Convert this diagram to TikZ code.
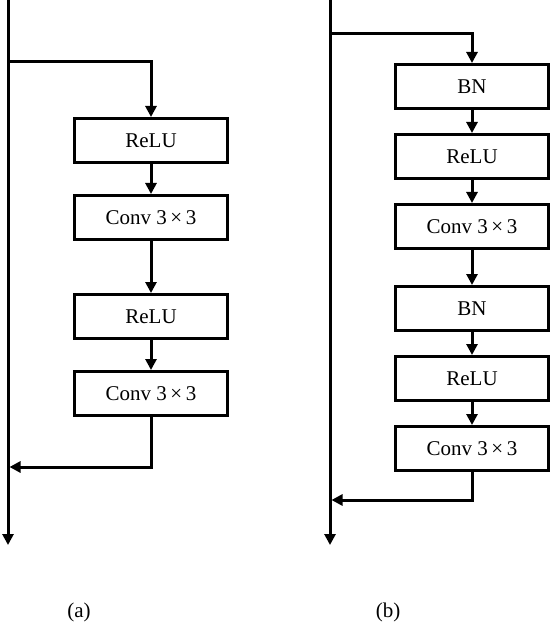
\documentclass[tikz,border=0pt]{standalone}
\usepackage{fontspec}
\setmainfont{Liberation Serif}
\usetikzlibrary{positioning,arrows.meta}
\begin{document}
\begin{tikzpicture}[x=1pt,y=-1pt]
    \tikzset{
        layer/.style={draw, line width=3pt, minimum width=153pt, minimum height=44pt, inner sep=0pt, font=\fontsize{21}{25}\selectfont},
        flow/.style={line width=3pt, -{Triangle[width=11pt,length=11pt]}},
        caption/.style={font=\fontsize{21}{25}\selectfont}
    }
    \useasboundingbox (0,0) rectangle (552,628);
    % (a) plain block
    \coordinate (inA) at (8,0);
    \coordinate (outA) at (8,545);
    \coordinate (splitA) at (8,62);
    \coordinate (joinA) at (9.5,467);
    \node[layer] (reluA1) at (151,140.5) {ReLU};
    \node[layer, below=30pt of reluA1] (convA1) {Conv 3\,×\,3};
    \node[layer, below=52pt of convA1] (reluA2) {ReLU};
    \node[layer, below=30pt of reluA2] (convA2) {Conv 3\,×\,3};
    \draw[flow] (inA) -- (outA);
    \draw[flow] (splitA) -| (reluA1.north);
    \draw[flow] (reluA1) -- (convA1);
    \draw[flow] (convA1) -- (reluA2);
    \draw[flow] (reluA2) -- (convA2);
    \draw[flow] (convA2.south) |- (joinA);
    \node[caption] (capA) at (79,612) {(a)};
    % (b) pre-activation block
    \coordinate (inB) at (330,0);
    \coordinate (outB) at (330,545);
    \coordinate (splitB) at (330,34);
    \coordinate (joinB) at (331.5,500);
    \node[layer] (bnB1) at (472,86.5) {BN};
    \node[layer, below=23pt of bnB1] (reluB1) {ReLU};
    \node[layer, below=23pt of reluB1] (convB1) {Conv 3\,×\,3};
    \node[layer, below=35pt of convB1] (bnB2) {BN};
    \node[layer, below=23pt of bnB2] (reluB2) {ReLU};
    \node[layer, below=23pt of reluB2] (convB2) {Conv 3\,×\,3};
    \draw[flow] (inB) -- (outB);
    \draw[flow] (splitB) -| (bnB1.north);
    \draw[flow] (bnB1) -- (reluB1);
    \draw[flow] (reluB1) -- (convB1);
    \draw[flow] (convB1) -- (bnB2);
    \draw[flow] (bnB2) -- (reluB2);
    \draw[flow] (reluB2) -- (convB2);
    \draw[flow] (convB2.south) |- (joinB);
    \node[caption] (capB) at (388,612) {(b)};
\end{tikzpicture}
\end{document}
